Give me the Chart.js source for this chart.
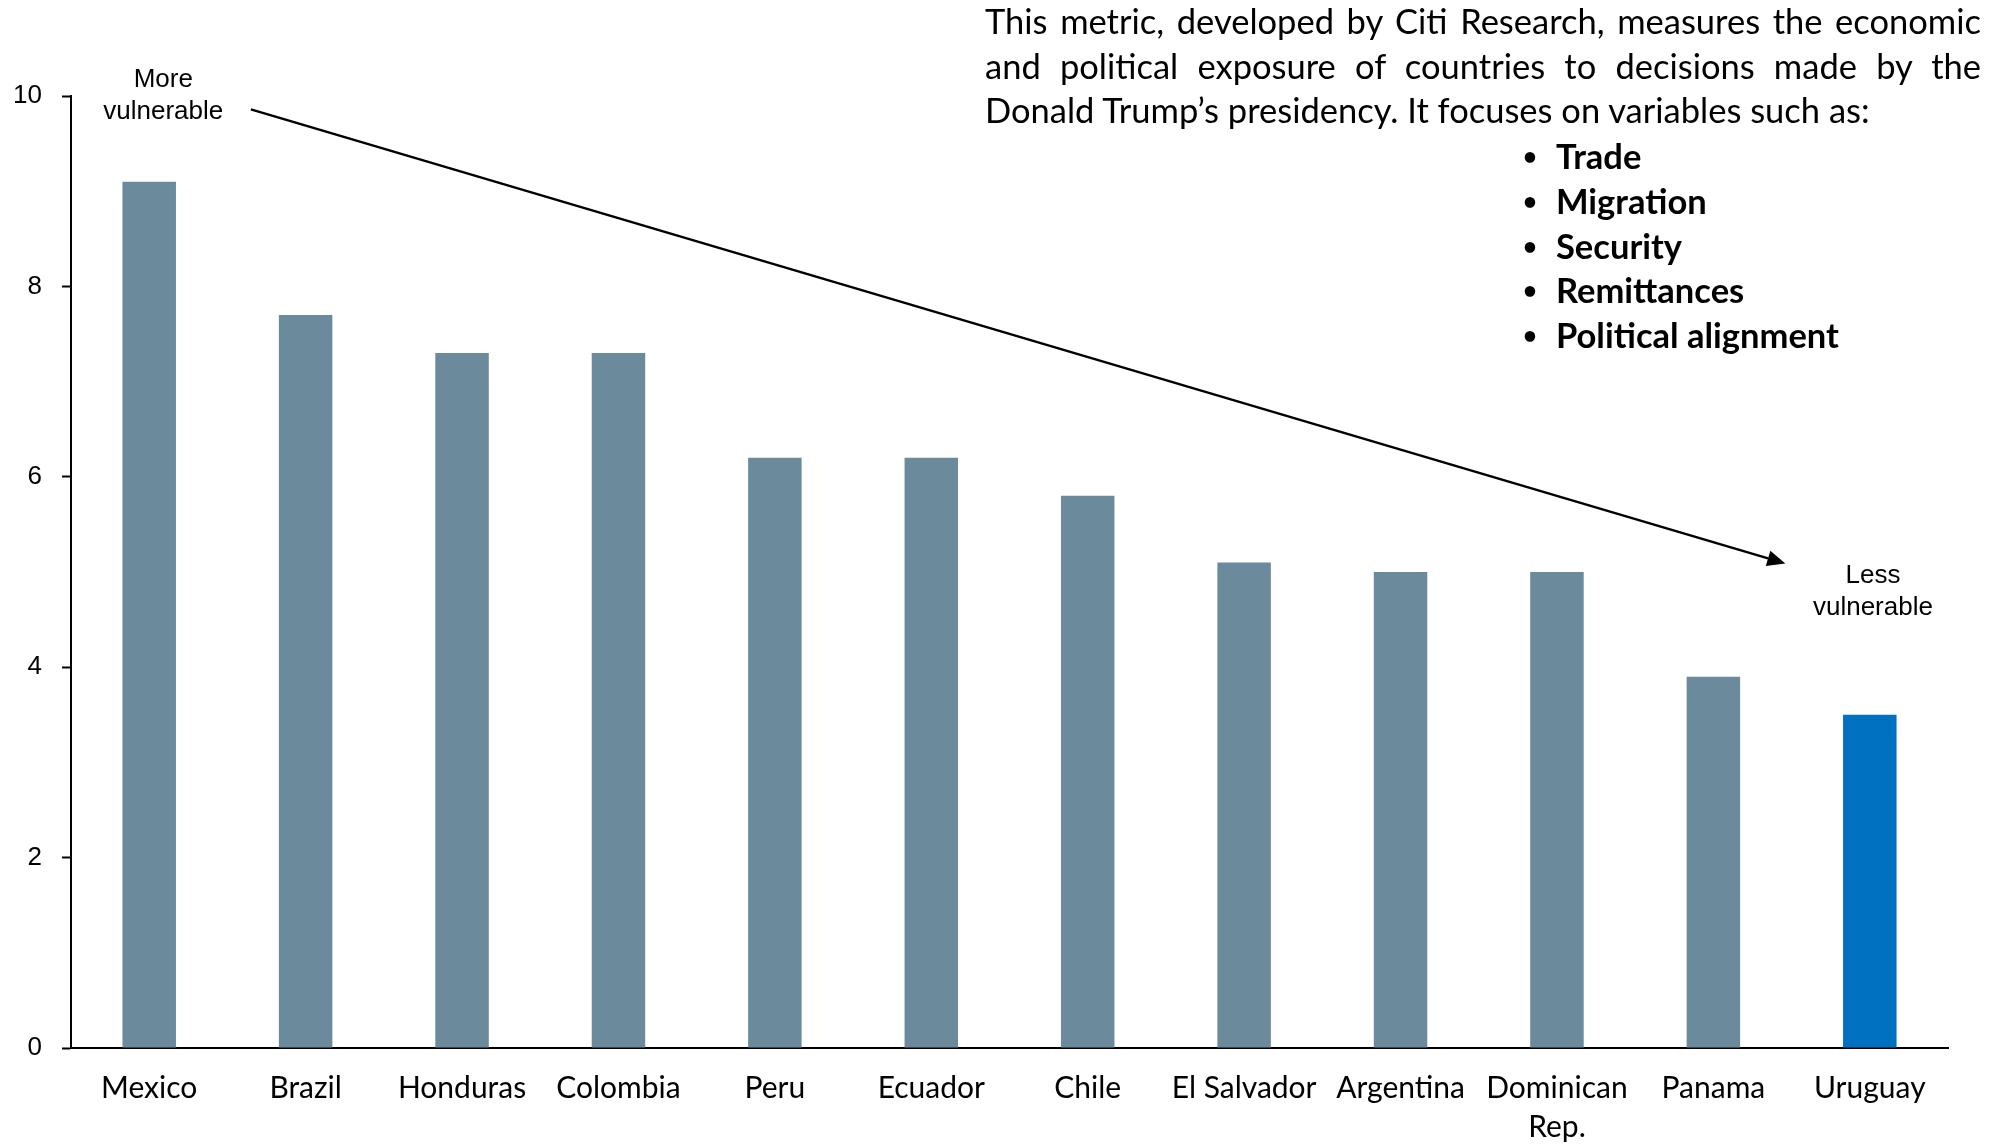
<!DOCTYPE html>
<html>
<head>
<meta charset="utf-8">
<script src="https://cdn.jsdelivr.net/npm/chart.js@4.4.1/dist/chart.umd.min.js"></script>
<style>
  html, body { margin: 0; padding: 0; background: #fff; }
  #wrap { position: relative; width: 1996px; height: 1144px; }
  #chart { position: absolute; left: 0; top: 0; }
  #note { position: absolute; left: 985px; top: -1px; width: 996px; font-family: Lato, 'Open Sans', sans-serif; font-size: 34.5px; line-height: 44.6px; color: #000; }
  #note .ln { text-align: justify; text-align-last: justify; white-space: nowrap; }
  #note .ln.last { text-align-last: left; }
  #vars { position: absolute; left: 1520px; top: 134px; margin: 0; padding: 0; list-style: none; font-family: Lato, 'Open Sans', sans-serif; font-weight: 700; font-size: 34.5px; line-height: 44.8px; }
  #vars li::before { content: '\2022'; display: inline-block; width: 36px; font-size: 24px; vertical-align: 4px; padding-left: 3px; box-sizing: border-box; }
</style>
</head>
<body>
<div id="wrap">
  <canvas id="chart" width="1996" height="1144"></canvas>
  <div id="note"></div>
  <ul id="vars"></ul>
</div>
<script>
const categories = ['Mexico', 'Brazil', 'Honduras', 'Colombia', 'Peru', 'Ecuador', 'Chile',
  'El Salvador', 'Argentina', ['Dominican', 'Rep.'], 'Panama', 'Uruguay'];
const scores = [9.1, 7.7, 7.3, 7.3, 6.2, 6.2, 5.8, 5.1, 5.0, 5.0, 3.9, 3.5];
const highlighted = 'Uruguay';
const yMax = 10;
const yStep = 2;

const noteLines = [
  'This metric, developed by Citi Research, measures the economic',
  'and political exposure of countries to decisions made by the',
  'Donald Trump\u2019s presidency. It focuses on variables such as:'
];
const variables = ['Trade', 'Migration', 'Security', 'Remittances', 'Political alignment'];

const BAR = '#6b8a9b';
const HIGHLIGHT = '#0070c0';

// paragraph + bullet list in the top right corner
const note = document.getElementById('note');
noteLines.forEach((t, i) => {
  const d = document.createElement('div');
  d.className = 'ln' + (i === noteLines.length - 1 ? ' last' : '');
  d.textContent = t;
  note.appendChild(d);
});
const list = document.getElementById('vars');
variables.forEach(v => {
  const li = document.createElement('li');
  li.textContent = v;
  list.appendChild(li);
});

// diagonal arrow from "More vulnerable" to "Less vulnerable", placed in data units
const arrowNotes = {
  id: 'arrowNotes',
  afterDraw(chart) {
    const { ctx, scales: { x, y } } = chart;
    const x0 = x.getPixelForValue(0.65), y0 = y.getPixelForValue(9.86);
    const x1 = x.getPixelForValue(10.46), y1 = y.getPixelForValue(5.09);
    const ang = Math.atan2(y1 - y0, x1 - x0);
    const head = 18, half = 8;
    ctx.save();
    ctx.strokeStyle = '#000';
    ctx.fillStyle = '#000';
    ctx.lineWidth = 2.5;
    ctx.beginPath();
    ctx.moveTo(x0, y0);
    ctx.lineTo(x1 - head * Math.cos(ang), y1 - head * Math.sin(ang));
    ctx.stroke();
    ctx.beginPath();
    ctx.moveTo(x1, y1);
    ctx.lineTo(x1 - head * Math.cos(ang) + half * Math.sin(ang), y1 - head * Math.sin(ang) - half * Math.cos(ang));
    ctx.lineTo(x1 - head * Math.cos(ang) - half * Math.sin(ang), y1 - head * Math.sin(ang) + half * Math.cos(ang));
    ctx.closePath();
    ctx.fill();

    ctx.font = '26px "Liberation Sans", Arial, sans-serif';
    ctx.textAlign = 'center';
    ctx.textBaseline = 'middle';
    const mx = x.getPixelForValue(0.09), my = y.getPixelForValue(10.0);
    ctx.fillText('More', mx, my - 16);
    ctx.fillText('vulnerable', mx, my + 16);
    const lx = x.getPixelForValue(11.02), ly = y.getPixelForValue(4.79);
    ctx.fillText('Less', lx, ly - 16);
    ctx.fillText('vulnerable', lx, ly + 16);
    ctx.restore();
  }
};

new Chart(document.getElementById('chart'), {
  type: 'bar',
  data: {
    labels: categories,
    datasets: [{
      data: scores,
      backgroundColor: categories.map(c => c === highlighted ? HIGHLIGHT : BAR),
      borderWidth: 0,
      categoryPercentage: 1,
      barPercentage: 0.342
    }]
  },
  options: {
    responsive: false,
    animation: false,
    layout: { padding: { top: 96, right: 48, left: 0, bottom: 0 } },
    plugins: { legend: { display: false }, tooltip: { enabled: false } },
    scales: {
      x: {
        grid: { display: false, drawTicks: false },
        border: { color: '#000', width: 2 },
        ticks: { color: '#000', padding: 21, maxRotation: 0, autoSkip: false,
          font: { family: 'Lato, "Open Sans", sans-serif', size: 30, lineHeight: 1.3 } },
        afterFit: s => { s.height = 96; }
      },
      y: {
        min: 0, max: yMax,
        grid: { drawOnChartArea: false, tickLength: 9, tickColor: '#000', tickWidth: 2 },
        border: { color: '#000', width: 2 },
        ticks: { stepSize: yStep, color: '#000', padding: 20,
          font: { family: '"Liberation Sans", Arial, sans-serif', size: 26 } },
        afterFit: s => { s.width = 71; }
      }
    }
  },
  plugins: [arrowNotes]
});
</script>
</body>
</html>
